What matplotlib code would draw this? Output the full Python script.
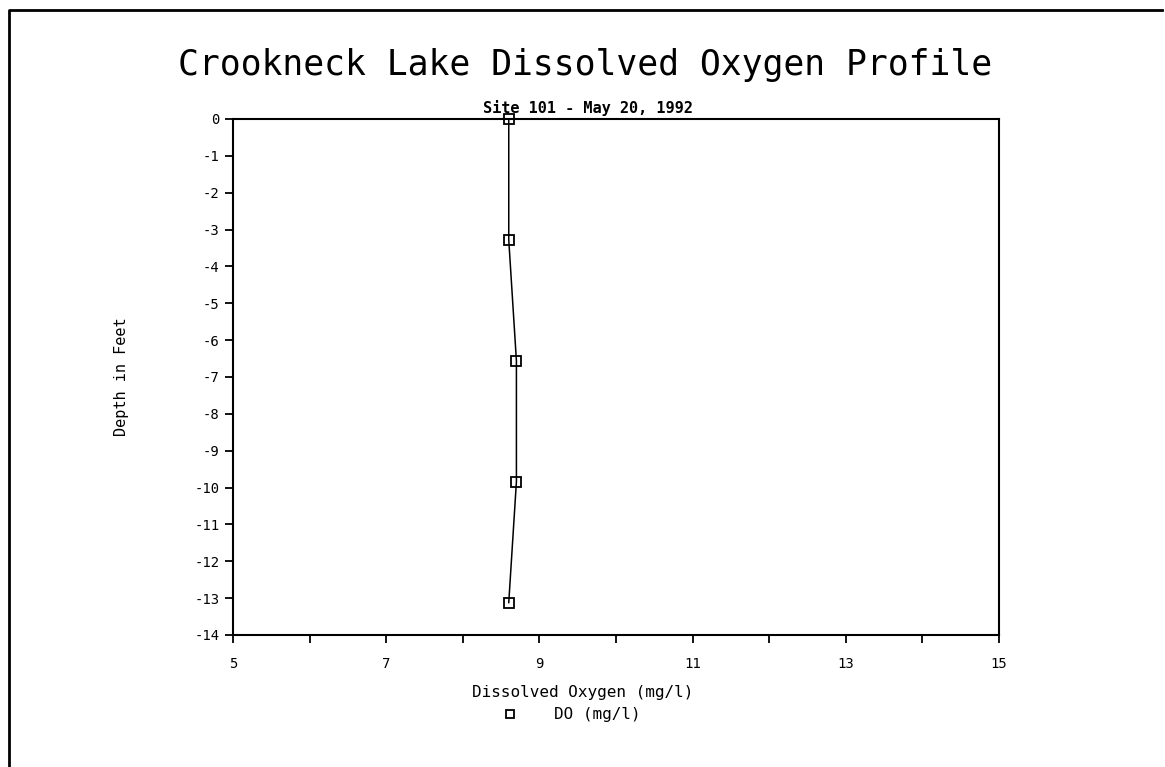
import matplotlib.pyplot as plt
from matplotlib.lines import Line2D

# DO profile, Crookneck Lake site 101
depth_ft = [0, -3.28, -6.56, -9.84, -13.12]
do_mg_l = [8.6, 8.6, 8.7, 8.7, 8.6]
x_major = [5, 7, 9, 11, 13, 15]
x_minor = [6, 8, 10, 12, 14]
y_ticks = list(range(0, -15, -1))

mono = 'DejaVu Sans Mono'

fig = plt.figure(figsize=(11.65, 7.67), dpi=100)
ax = fig.add_axes([0.2, 0.1721, 0.6575, 0.6728])

ax.plot(do_mg_l, depth_ft, color='black', lw=1.1, marker='s', ms=7,
        mfc='none', mec='black', mew=1.3, clip_on=False)

ax.set_xlim(5, 15)
ax.set_ylim(-14, 0)
ax.set_xticks(x_major)
ax.set_xticks(x_minor, minor=True)
ax.set_yticks(y_ticks)
ax.set_yticklabels([str(v) for v in y_ticks])
ax.tick_params(axis='both', which='both', direction='out', length=6, width=1.3,
               labelsize=10)
ax.tick_params(axis='x', pad=10)
for lab in ax.get_xticklabels() + ax.get_yticklabels():
    lab.set_family(mono)
for s in ax.spines.values():
    s.set_linewidth(1.5)

ax.set_ylabel('Depth in Feet', family=mono, fontsize=11, labelpad=47)

# title block
fig.text(0.502, 0.915, 'Crookneck Lake Dissolved Oxygen Profile', family=mono,
         fontsize=25, ha='center', va='center')
fig.text(0.505, 0.859, 'Site 101 - May 20, 1992', family=mono, fontsize=11,
         fontweight='bold', ha='center', va='center')

# x label and legend line beneath
fig.text(0.5, 0.097, 'Dissolved Oxygen (mg/l)', family=mono, fontsize=11.5,
         ha='center', va='center')
fig.add_artist(Line2D([0.4375], [0.069], transform=fig.transFigure, marker='s',
                      ms=6, mfc='none', mec='black', mew=1.3, ls='none'))
fig.text(0.513, 0.069, 'DO (mg/l)', family=mono, fontsize=11.5,
         ha='center', va='center')

# page border
fig.add_artist(Line2D([0.008, 0.008, 0.997], [0.0, 0.987, 0.987],
                      transform=fig.transFigure, color='black', lw=2))

fig.savefig('out.png', dpi=100)
